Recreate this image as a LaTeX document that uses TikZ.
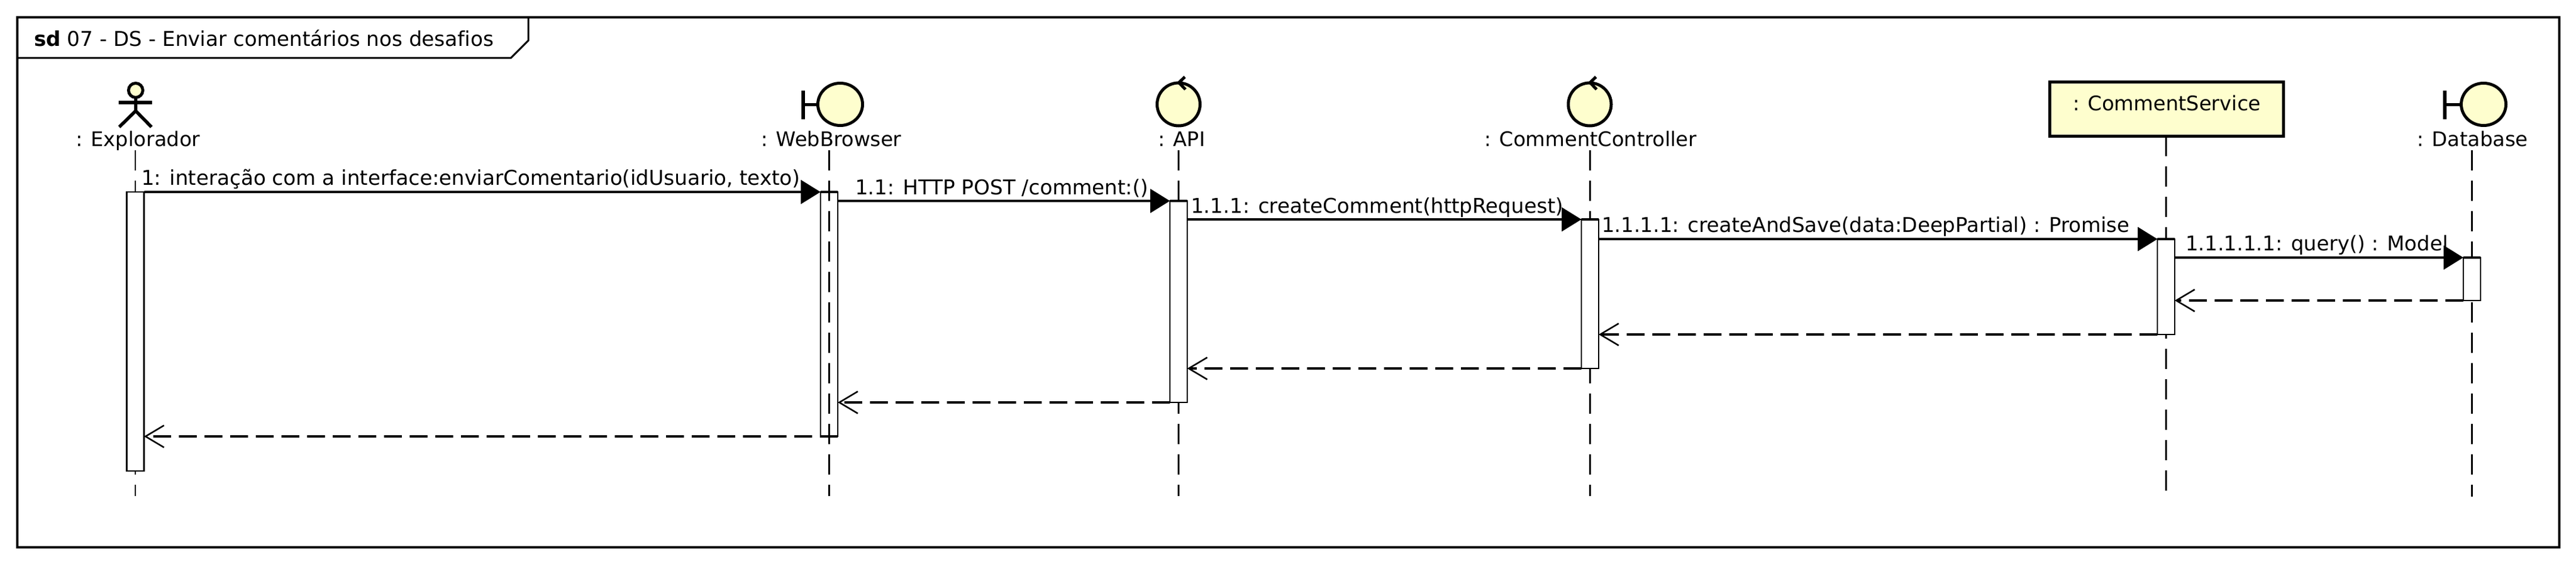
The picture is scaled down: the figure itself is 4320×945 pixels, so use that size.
\documentclass[tikz,border=0pt]{standalone}
\usepackage{fontspec}
\setmainfont[Ligatures=NoCommon]{DejaVu Sans}
\usetikzlibrary{arrows.meta}
\definecolor{umlfill}{HTML}{FEFECE}
\tikzset{
  txt/.style={inner sep=0pt,outer sep=0pt,anchor=base west,font=\fontsize{34.2pt}{40pt}\selectfont},
  plabel/.style={txt,font=\fontsize{33.7pt}{40pt}\selectfont},
  msgb/.style={txt,font=\fontsize{34pt}{40pt}\selectfont},
  life/.style={line width=2.2pt,dash pattern=on 34pt off 17pt},
  actbox/.style={draw,fill=white,line width=2.6pt,minimum width=29pt,inner sep=0pt,outer sep=0pt},
  call/.style={line width=3.3pt,-{Triangle[length=33pt,width=40pt]}},
  reply/.style={line width=3.3pt,dash pattern=on 30pt off 13pt,-{Straight Barb[length=31pt,width=37pt,line width=2.6pt]}},
  figline/.style={line width=5pt,fill=umlfill},
  stick/.style={line width=5.5pt},
}
\begin{document}
\begin{tikzpicture}[x=1pt,y=-1pt]
\useasboundingbox (0,0) rectangle (4320,945);
% frame
\draw[line width=3.2pt] (29,29) rectangle (4292,918);
\draw[line width=3pt] (29,97) -- (857,97) -- (886,68) -- (886,29);
\node[txt] (title) at (57,77) {\textbf{sd} 07 - DS - Enviar comentários nos desafios};
% coordinates for lifeline ends
\coordinate (eT) at (227,252); \coordinate (eB) at (227,832);
\coordinate (wT) at (1390.5,252); \coordinate (wB) at (1390.5,832);
\coordinate (aT) at (1976.5,252); \coordinate (aB) at (1976.5,832);
\coordinate (cT) at (2666.5,252); \coordinate (cB) at (2666.5,832);
\coordinate (sB) at (3632.5,825);
\coordinate (dT) at (4145.5,252); \coordinate (dB) at (4145.5,833);
% participant: service box
\node[draw,fill=umlfill,line width=5pt,minimum width=392pt,minimum height=91pt,inner sep=0pt,outer sep=0pt] (sbox) at (3633,182.5) {};
\node[plabel] (slabel) at (3476,185) {: CommentService};
% lifelines
\draw[life] (eT) -- (eB);
\draw[life] (aT) -- (aB);
\draw[life] (cT) -- (cB);
\draw[life] (sbox.south -| sB) -- (sB);
\draw[life] (dT) -- (dB);
% activations
\node[actbox,minimum height=468pt] (aE) at (227,556) {};
\node[actbox,minimum height=410pt] (aW) at (1390.5,527) {};
\node[actbox,minimum height=338pt] (aA) at (1976.5,506) {};
\node[actbox,minimum height=250pt] (aC) at (2666.5,493) {};
\node[actbox,minimum height=160pt] (aS) at (3632.5,481) {};
\node[actbox,minimum height=72pt] (aD) at (4145.5,468) {};
\draw[life] (wT) -- (wB);
% actor
\draw[figline] (227.5,151.5) circle (12);
\draw[stick] (227.5,164) -- (227.5,186) (227.5,186) -- (200,213) (227.5,186) -- (254,213);
\draw[stick] (199,172) -- (255,172);
% boundary WebBrowser
\draw[stick] (1347,152) -- (1347,200);
\draw[stick] (1347,175.5) -- (1372,175.5);
\draw[figline] (1409,175) ellipse (37.5 and 35.5);
% control API
\draw[figline] (1976.5,175) circle (36);
\draw[line width=5pt] (1987,129) -- (1977,138.5) -- (1988,150);
% control CommentController
\draw[figline] (2666,175) circle (36);
\draw[line width=5pt] (2676.5,129) -- (2666.5,138.5) -- (2677.5,150);
% boundary Database
\draw[stick] (4100,152) -- (4100,200);
\draw[stick] (4100,175.5) -- (4127,175.5);
\draw[figline] (4165,175) ellipse (37.5 and 35.5);
% participant labels
\node[plabel] (lE) at (127,245) {: Explorador};
\node[plabel] (lW) at (1276,245) {: WebBrowser};
\node[plabel] (lA) at (1942,245) {: API};
\node[plabel] (lC) at (2489,245) {: CommentController};
\node[plabel] (lD) at (4053,245) {: Database};
% calls
\draw[call] (aE.north east) -- (aW.north west);
\draw[call] (aW.east |- aA.north) -- (aA.north west);
\draw[call] (aA.east |- aC.north) -- (aC.north west);
\draw[call] (aC.east |- aS.north) -- (aS.north west);
\draw[call] (aS.east |- aD.north) -- (aD.north west);
\draw[line width=3.3pt] (aW.north west) -- (aW.north east);
\draw[line width=3.3pt] (aA.north west) -- (aA.north east);
\draw[line width=3.3pt] (aC.north west) -- (aC.north east);
\draw[line width=3.3pt] (aS.north west) -- (aS.north east);
\draw[line width=3.3pt] (aD.north west) -- (aD.north east);
% replies
\draw[reply] (aD.south west) -- (aS.east |- aD.south);
\draw[reply] (aS.south west) -- (aC.east |- aS.south);
\draw[reply] (aC.south west) -- (aA.east |- aC.south);
\draw[reply] (aA.south west) -- (aW.east |- aA.south);
\draw[reply] (aW.south east) -- (aE.east |- aW.south);
% message labels
\node[txt] (m1) at (237,310) {1: interação com a interface:enviarComentario(idUsuario, texto)};
\node[txt] (m2) at (1434,326) {1.1: HTTP POST /comment:()};
\node[txt] (m3) at (1997,357) {1.1.1: createComment(httpRequest)};
\node[msgb] (m4) at (2686,389) {1.1.1.1: createAndSave(data:DeepPartial) : Promise};
\node[msgb] (m5) at (3665,420) {1.1.1.1.1: query() : Model};
\end{tikzpicture}
\end{document}
